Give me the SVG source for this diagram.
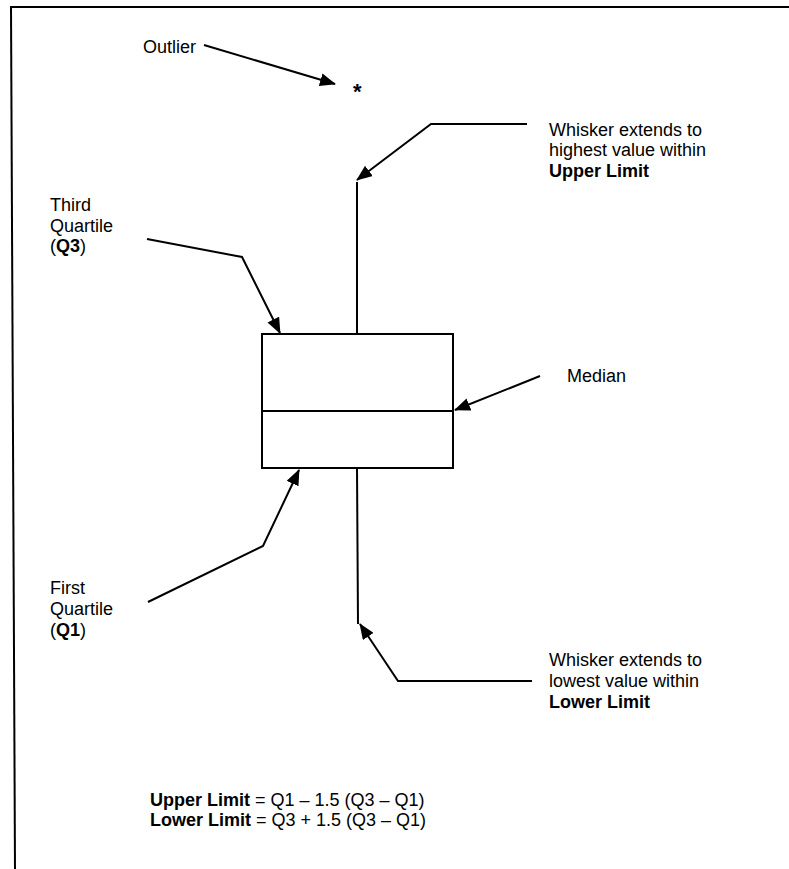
<svg xmlns="http://www.w3.org/2000/svg" width="789" height="869" viewBox="0 0 789 869">
<defs>
<style>
.t{font-family:"Liberation Sans",Arial,sans-serif;font-size:18px;fill:#000}
.b{font-weight:bold}
.ln{stroke:#000;stroke-width:2;fill:none}
</style>
<marker id="ah" markerWidth="16" markerHeight="13" refX="15" refY="6.5" orient="auto" markerUnits="userSpaceOnUse" viewBox="0 0 16 13">
<path d="M0,0 L16,6.5 L0,13 z" fill="#000"/>
</marker>
</defs>
<rect width="789" height="869" fill="#fff"/>
<g id="frame">
<line class="ln" x1="10" y1="7" x2="789" y2="7"/>
<line class="ln" x1="11" y1="7" x2="15" y2="869"/>
</g>
<g id="box">
<rect class="ln" x="262" y="334" width="191" height="134"/>
<line class="ln" x1="262" y1="411" x2="453" y2="411"/>
</g>
<g id="whiskers">
<line class="ln" x1="357" y1="182" x2="357" y2="334"/>
<line class="ln" x1="357" y1="468" x2="358" y2="624"/>
</g>
<g id="outlier">
<text class="t" x="143" y="53">Outlier</text>
<text class="t b" x="353" y="99" style="font-size:22px">*</text>
</g>
<g id="upper-label">
<text class="t" x="549" y="136">Whisker extends to</text>
<text class="t" x="549" y="156">highest value within</text>
<text class="t b" x="549" y="177">Upper Limit</text>
</g>
<g id="q3-label">
<text class="t" x="50" y="211">Third</text>
<text class="t" x="50" y="232">Quartile</text>
<text class="t" x="50" y="252">(<tspan class="b">Q3</tspan>)</text>
</g>
<g id="median-label">
<text class="t" x="567" y="382">Median</text>
</g>
<g id="q1-label">
<text class="t" x="50" y="594">First</text>
<text class="t" x="50" y="615">Quartile</text>
<text class="t" x="50" y="636">(<tspan class="b">Q1</tspan>)</text>
</g>
<g id="lower-label">
<text class="t" x="549" y="666">Whisker extends to</text>
<text class="t" x="549" y="687">lowest value within</text>
<text class="t b" x="549" y="708">Lower Limit</text>
</g>
<g id="formula">
<text class="t" x="150" y="806"><tspan class="b">Upper Limit</tspan> = Q1 – 1.5 (Q3 – Q1)</text>
<text class="t" x="150" y="826"><tspan class="b">Lower Limit</tspan> = Q3 + 1.5 (Q3 – Q1)</text>
</g>
<g id="connectors">
<line class="ln" x1="204" y1="45" x2="335" y2="84" marker-end="url(#ah)"/>
<polyline class="ln" points="527,124 431,124 357,180" marker-end="url(#ah)"/>
<polyline class="ln" points="147,239 242,257 280,333" marker-end="url(#ah)"/>
<line class="ln" x1="540" y1="376" x2="455" y2="410" marker-end="url(#ah)"/>
<polyline class="ln" points="148,602 263,546 299,470" marker-end="url(#ah)"/>
<polyline class="ln" points="532,681 398,681 360,624" marker-end="url(#ah)"/>
</g>
</svg>
